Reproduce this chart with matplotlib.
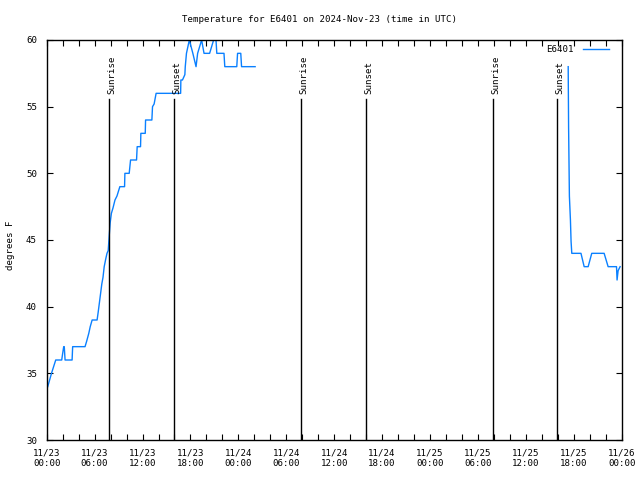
import numpy as np
import matplotlib
matplotlib.use('Agg')
from matplotlib import pyplot as plt
from matplotlib.ticker import MultipleLocator

# hours since 2024-11-23 00:00 UTC and temperature (F)
hours_day1 = [0.13, 0.6, 1.13, 1.88, 2.0, 2.13, 2.2, 2.3, 3.18, 3.25, 4.8,
              5.0, 5.27, 5.45, 5.69, 6.31, 6.45, 6.6, 6.75, 6.9, 7.05, 7.2,
              7.4, 7.55, 7.7, 7.85, 7.95, 8.1, 8.3, 8.55, 8.8, 9.16, 9.75,
              9.79, 10.33, 10.5, 11.25, 11.33, 11.75, 11.79, 12.34, 12.38,
              13.17, 13.25, 13.45, 13.7, 16.77, 16.8, 17.0, 17.3, 17.35,
              17.5, 17.86, 18.3, 18.7, 18.9, 19.4, 19.7, 20.4, 20.9, 21.2,
              21.3, 22.2, 22.3, 23.8, 23.9, 24.2, 24.3, 24.4, 26.1]
temps_day1 = [34, 35, 36, 36, 36.5, 37, 37, 36, 36, 37, 37,
              37.4, 38, 38.5, 39, 39, 39.6, 40.3, 41, 41.7, 42.2, 43,
              43.6, 44, 44.2, 45.5, 46.3, 47, 47.4, 48, 48.3, 49, 49,
              50, 50, 51, 51, 52, 52, 53, 53, 54,
              54, 55, 55.2, 56, 56, 57, 57, 57.4, 58,
              59, 60, 59, 58, 59, 60, 59, 59, 60, 60,
              59, 59, 58, 58, 59, 59, 59, 58, 58]

hours_day3 = [65.3, 65.35, 65.45, 65.58, 65.66, 65.75, 66.9, 67.3, 67.8,
              68.25, 69.8, 70.3, 71.35, 71.42, 71.55, 71.8]
temps_day3 = [58, 53.5, 48.3, 46.5, 44.9, 44, 44, 43, 43,
              44, 44, 43, 43, 42, 42.7, 43]

sun_hours = [7.85, 15.98, 31.9, 39.98, 55.9, 63.95]
sun_names = ['Sunrise', 'Sunset', 'Sunrise', 'Sunset', 'Sunrise', 'Sunset']

tick_hours = [0, 6, 12, 18, 24, 30, 36, 42, 48, 54, 60, 66, 72]
tick_labels = ['11/23\n00:00', '11/23\n06:00', '11/23\n12:00', '11/23\n18:00',
               '11/24\n00:00', '11/24\n06:00', '11/24\n12:00', '11/24\n18:00',
               '11/25\n00:00', '11/25\n06:00', '11/25\n12:00', '11/25\n18:00',
               '11/26\n00:00']

FONT = 'DejaVu Sans Mono'
FS = 6.6
plt.rcParams['font.family'] = FONT
plt.rcParams['font.size'] = FS

fig = plt.figure(figsize=(6.4, 4.8), dpi=100)
ax = fig.add_axes([46.7 / 640, 1 - 440 / 480, 575 / 640, 400 / 480])

# one line, gap between the two data stretches
x = hours_day1 + [np.nan] + hours_day3
y = temps_day1 + [np.nan] + temps_day3
ax.plot(x, y, color='#0a80ff', lw=1.0, label='E6401')

for h, name in zip(sun_hours, sun_names):
    ax.plot([h, h], [30, 55.6], color='black', lw=1.0)
    ax.text(h + 0.3, 55.95, name, rotation=90, ha='center', va='bottom',
            fontsize=FS)

ax.set_xlim(0, 72)
ax.set_ylim(30, 60)
ax.set_xticks(tick_hours)
ax.set_xticklabels(tick_labels, linespacing=1.3)
ax.xaxis.set_minor_locator(MultipleLocator(2))
ax.yaxis.set_major_locator(MultipleLocator(5))
ax.tick_params(which='both', direction='in', top=True, right=True,
               length=4, width=0.8)
ax.tick_params(axis='x', which='major', pad=6)
ax.tick_params(axis='y', which='major', pad=7)
for s in ax.spines.values():
    s.set_linewidth(1.0)

ax.legend(loc='upper right', frameon=False, markerfirst=False,
          bbox_to_anchor=(1 - 7 / 575, 1.0),
          handlelength=2.9, borderaxespad=0.2, handletextpad=1.0,
          fontsize=FS)

fig.text(0.5, 1 - 19 / 480, 'Temperature for E6401 on 2024-Nov-23 (time in UTC)',
         ha='center', va='center', fontsize=FS)
fig.text(11 / 640, 1 - 245 / 480, 'degrees F', rotation=90,
         ha='center', va='center', fontsize=FS)

fig.savefig('out.png', dpi=100)
